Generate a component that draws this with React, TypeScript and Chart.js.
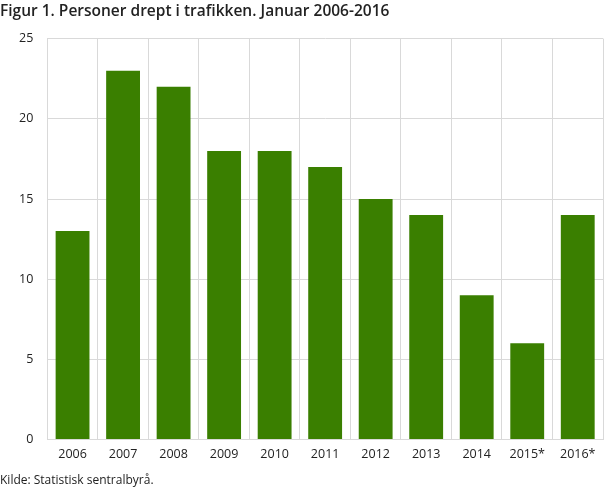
import React, { useEffect, useRef } from "react";
import { Chart, registerables } from "chart.js";

Chart.register(...registerables);

const categories = ["2006", "2007", "2008", "2009", "2010", "2011", "2012", "2013", "2014", "2015*", "2016*"];
const values = [13, 23, 22, 18, 18, 17, 15, 14, 9, 6, 14];
const titleText = "Figur 1. Personer drept i trafikken. Januar 2006-2016";
const sourceText = "Kilde: Statistisk sentralbyrå.";

export default function App() {
  const ref = useRef<HTMLCanvasElement>(null);
  useEffect(() => {
    document.body.style.margin = "0";
    const chart = new Chart(ref.current!, {
      type: "bar",
      data: {
        labels: categories,
        datasets: [
          {
            data: values,
            backgroundColor: "#3a7f00",
            barPercentage: 0.67,
            categoryPercentage: 1,
          },
        ],
      },
      options: {
        animation: false,
        responsive: false,
        devicePixelRatio: 1,
        layout: { padding: { left: 0, right: 5, top: 0, bottom: 0 } },
        plugins: {
          legend: { display: false },
          tooltip: { enabled: false },
          title: {
            display: true,
            text: titleText,
            align: "start",
            color: "#222",
            font: { family: "Open Sans", size: 15.5, weight: 600 },
            padding: { top: 2, bottom: 18 },
          },
          subtitle: {
            display: true,
            text: sourceText,
            position: "bottom",
            align: "start",
            color: "#222",
            font: { family: "Open Sans", size: 12 },
            padding: { top: 5, bottom: 0 },
          },
        },
        scales: {
          x: {
            grid: { color: "#d9d9d9", offset: true, drawTicks: false },
            border: { color: "#d9d9d9" },
            ticks: { color: "#222", font: { family: "Open Sans", size: 12.5 }, padding: 7 },
          },
          y: {
            min: 0,
            max: 25,
            grid: { color: "#d9d9d9", drawTicks: false },
            border: { color: "#d9d9d9" },
            ticks: { stepSize: 5, color: "#222", font: { family: "Open Sans", size: 12.5 }, padding: 14 },
            afterFit: (scale: any) => {
              scale.width += 5;
            },
          },
        },
      },
    });
    return () => chart.destroy();
  }, []);
  return (
    <div style={{ position: "absolute", left: 0, top: 0, width: 608, height: 488 }}>
      <canvas ref={ref} width={608} height={488} style={{ width: 608, height: 488 }} />
    </div>
  );
}
